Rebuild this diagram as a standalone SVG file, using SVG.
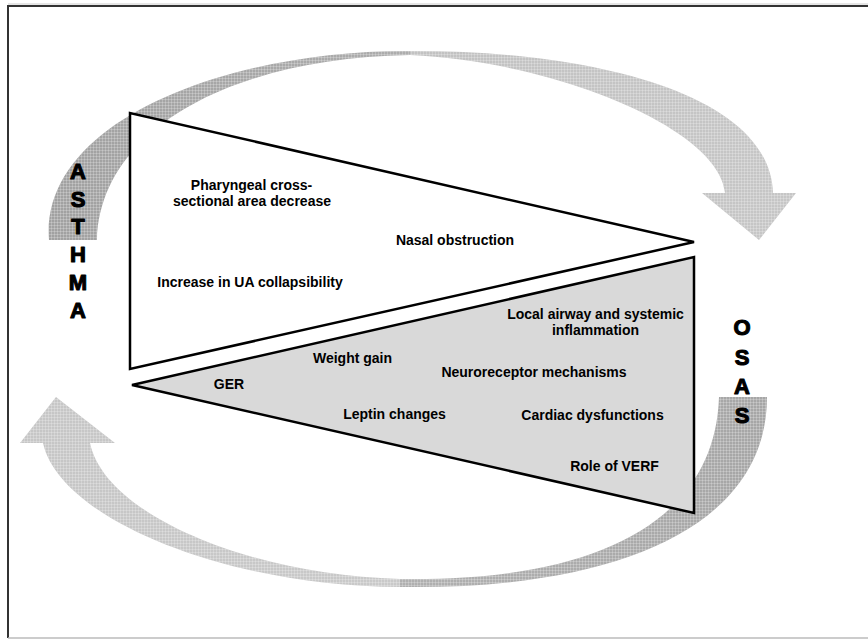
<svg xmlns="http://www.w3.org/2000/svg" width="868" height="640" viewBox="0 0 868 640">
  <style>
    .lbl { font-family: "Liberation Sans", Arial, sans-serif; font-weight: bold; font-size: 14px; fill: #000; text-anchor: middle; }
    .big { font-family: "Liberation Sans", Arial, sans-serif; font-weight: bold; font-size: 22px; fill: #000; stroke: #000; stroke-width: 1.1; stroke-linejoin: round; text-anchor: middle; }
    .tri { stroke: #000; stroke-width: 2.5; stroke-linejoin: miter; }
    .tex { fill: url(#grid); }
  </style>
  <defs>
    <pattern id="grid" width="3" height="3" patternUnits="userSpaceOnUse">
      <rect x="0" y="0" width="3" height="1" fill="#ffffff" fill-opacity="0.22"/>
      <rect x="0" y="0" width="1" height="3" fill="#ffffff" fill-opacity="0.22"/>
    </pattern>
    <linearGradient id="gTopDark" gradientUnits="userSpaceOnUse" x1="50" y1="0" x2="410" y2="0">
      <stop offset="0" stop-color="#a1a1a1"/>
      <stop offset="1" stop-color="#adadad"/>
    </linearGradient>
    <linearGradient id="gTopLight" gradientUnits="userSpaceOnUse" x1="410" y1="0" x2="800" y2="0">
      <stop offset="0" stop-color="#c2c2c2"/>
      <stop offset="1" stop-color="#c6c6c6"/>
    </linearGradient>
    <linearGradient id="gBotDark" gradientUnits="userSpaceOnUse" x1="400" y1="0" x2="770" y2="0">
      <stop offset="0" stop-color="#b0b0b0"/>
      <stop offset="1" stop-color="#a6a6a6"/>
    </linearGradient>
    <linearGradient id="gBotLight" gradientUnits="userSpaceOnUse" x1="20" y1="0" x2="400" y2="0">
      <stop offset="0" stop-color="#c6c6c6"/>
      <stop offset="1" stop-color="#c9c9c9"/>
    </linearGradient>
  </defs>

  <rect x="0" y="0" width="868" height="640" fill="#ffffff"/>

  <g id="frame">
    <line x1="8" y1="4" x2="868" y2="4" stroke="#cccccc" stroke-width="1"/>
    <line x1="8" y1="6" x2="868" y2="6" stroke="#333333" stroke-width="2"/>
    <line x1="8" y1="5" x2="8" y2="638" stroke="#333333" stroke-width="2"/>
    <line x1="8" y1="638" x2="868" y2="638" stroke="#bbbbbb" stroke-width="1.5"/>
  </g>

  <g id="connectors">
    <!-- top curved arrow: Asthma -> OSAS -->
    <g id="arrow-top">
      <path d="M49,240 C40,120 230,50 410,51 L410,55 C230,58 100,130 97,240 Z" fill="url(#gTopDark)"/>
      <path d="M49,240 C40,120 230,50 410,51 L410,55 C230,58 100,130 97,240 Z" class="tex"/>
      <path d="M410,51 C580,50 770,90 773,193 L796,193 L759,240 L702,193 L725,193 C720,130 560,62 410,55 Z" fill="url(#gTopLight)"/>
      <path d="M410,51 C580,50 770,90 773,193 L796,193 L759,240 L702,193 L725,193 C720,130 560,62 410,55 Z" class="tex"/>
    </g>
    <!-- bottom curved arrow: OSAS -> Asthma -->
    <g id="arrow-bottom">
      <path d="M767,397 C767,530 610,590 400,587 L400,579 C600,582 715,520 719,397 Z" fill="url(#gBotDark)"/>
      <path d="M767,397 C767,530 610,590 400,587 L400,579 C600,582 715,520 719,397 Z" class="tex"/>
      <path d="M400,587 C230,587 60,520 43,443 L20,443 L56,397 L115,443 L90,443 C105,515 250,575 400,579 Z" fill="url(#gBotLight)"/>
      <path d="M400,587 C230,587 60,520 43,443 L20,443 L56,397 L115,443 L90,443 C105,515 250,575 400,579 Z" class="tex"/>
    </g>
  </g>

  <g id="asthma-factors">
    <polygon class="tri" points="130,113 130,369 694,242" fill="#ffffff"/>
    <text class="lbl" x="251.5" y="190">Pharyngeal cross-</text>
    <text class="lbl" x="252" y="206">sectional area decrease</text>
    <text class="lbl" x="455" y="245">Nasal obstruction</text>
    <text class="lbl" x="250" y="287">Increase in UA collapsibility</text>
  </g>

  <g id="osas-factors">
    <polygon class="tri" points="132,385 694,257 694,513" fill="#d9d9d9"/>
    <text class="lbl" x="595.5" y="319">Local airway and systemic</text>
    <text class="lbl" x="595.5" y="335">inflammation</text>
    <text class="lbl" x="352.5" y="363">Weight gain</text>
    <text class="lbl" x="534" y="377">Neuroreceptor mechanisms</text>
    <text class="lbl" x="229" y="389">GER</text>
    <text class="lbl" x="394.5" y="419">Leptin changes</text>
    <text class="lbl" x="592.5" y="420">Cardiac dysfunctions</text>
    <text class="lbl" x="614.5" y="471">Role of VERF</text>
  </g>

  <g id="label-asthma">
    <text class="big" x="78" y="179">A</text>
    <text class="big" x="78" y="207">S</text>
    <text class="big" x="78" y="234">T</text>
    <text class="big" x="78" y="262">H</text>
    <text class="big" x="78" y="290">M</text>
    <text class="big" x="78" y="318">A</text>
  </g>

  <g id="label-osas">
    <text class="big" x="742" y="335">O</text>
    <text class="big" x="742" y="365">S</text>
    <text class="big" x="742" y="394">A</text>
    <text class="big" x="742" y="423">S</text>
  </g>
</svg>
